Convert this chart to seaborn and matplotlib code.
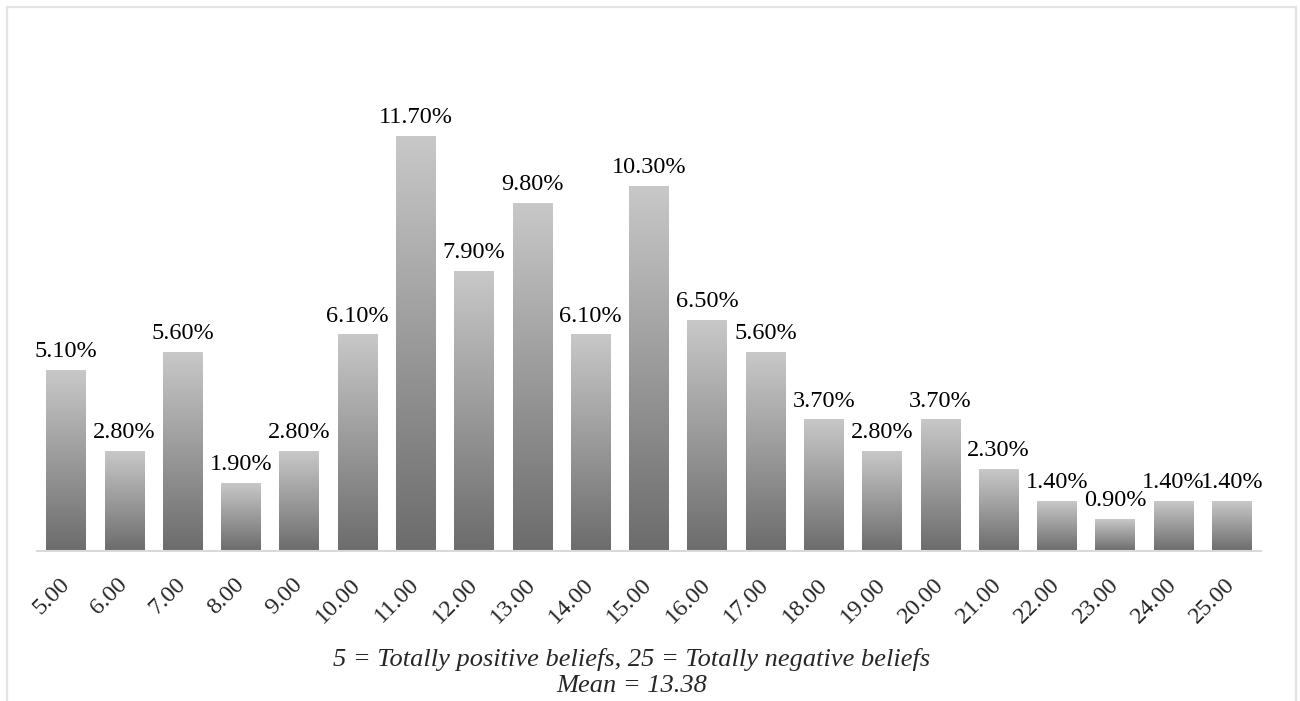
import numpy as np
import pandas as pd
import matplotlib
matplotlib.use("Agg")
import matplotlib.pyplot as plt
from matplotlib.colors import LinearSegmentedColormap
from matplotlib.patches import Rectangle
import seaborn as sns

# Score distribution (percent of respondents per total score)
scores = ["5.00", "6.00", "7.00", "8.00", "9.00", "10.00", "11.00", "12.00",
          "13.00", "14.00", "15.00", "16.00", "17.00", "18.00", "19.00",
          "20.00", "21.00", "22.00", "23.00", "24.00", "25.00"]
percents = [5.1, 2.8, 5.6, 1.9, 2.8, 6.1, 11.7, 7.9, 9.8, 6.1, 10.3, 6.5,
            5.6, 3.7, 2.8, 3.7, 2.3, 1.4, 0.9, 1.4, 1.4]
note_line1 = "5 = Totally positive beliefs, 25 = Totally negative beliefs"
note_line2 = "Mean = 13.38"

sns.set_theme(style="white")
plt.rcParams["font.family"] = ["Liberation Serif", "DejaVu Serif"]

W, H = 1300, 701
fig = plt.figure(figsize=(W / 100, H / 100), dpi=100)
fig.patch.set_facecolor("white")

# axes placed in pixel terms: baseline at y=551, x from 37 to 1261
ax_left, ax_right, ax_base, ax_top = 37, 1261, 551, 55
ax = fig.add_axes([ax_left / W, 1 - ax_base / H,
                   (ax_right - ax_left) / W, (ax_base - ax_top) / H])

df = pd.DataFrame({"score": scores, "pct": percents})
sns.barplot(data=df, x="score", y="pct", ax=ax, width=0.68,
            color="#a0a0a0", saturation=1, edgecolor="none")

# vertical gradient fill for each bar: light at the top, dark at the base
cmap = LinearSegmentedColormap.from_list("bar_grad", ["#6c6c6c", "#c8c8c8"])
grad = np.linspace(0, 1, 256).reshape(-1, 1)
for patch in ax.patches:
    x0 = patch.get_x()
    w = patch.get_width()
    h = patch.get_height()
    patch.set_facecolor("none")
    ax.imshow(grad, extent=[x0, x0 + w, 0, h], origin="lower",
              aspect="auto", cmap=cmap, zorder=patch.get_zorder())

# value labels above bars
for patch, v in zip(ax.patches, percents):
    ax.annotate(f"{v:.2f}%", (patch.get_x() + patch.get_width() / 2, patch.get_height()),
                xytext=(0, 6), textcoords="offset points",
                ha="center", va="bottom", fontsize=17.5, color="black")

ax.set_xlim(-0.5, len(scores) - 0.5)
ax.set_ylim(0, 14)
ax.set_xlabel("")
ax.set_ylabel("")
ax.set_yticks([])
ax.set_xticks(range(len(scores)))
ax.set_xticklabels(scores, rotation=45, ha="right", va="center",
                   rotation_mode="anchor", fontsize=17.5)
ax.tick_params(axis="x", length=0, pad=22)
for side in ["top", "left", "right"]:
    ax.spines[side].set_visible(False)
ax.spines["bottom"].set_color("#d9d9d9")
ax.spines["bottom"].set_linewidth(1.5)
ax.set_facecolor("none")

# chart note under the axis
fig.text(632 / W, 1 - 666 / H, note_line1, ha="center", va="baseline",
         fontsize=19, style="italic")
fig.text(632 / W, 1 - 692 / H, note_line2, ha="center", va="baseline",
         fontsize=19, style="italic")

# light outer frame around the chart area
fig.patches.append(Rectangle((7 / W, -0.05), (1296 - 7) / W, 1.05 - 7 / H,
                             transform=fig.transFigure, fill=False,
                             edgecolor="#e3e3e3", linewidth=1.6))

fig.savefig("out.png", dpi=100, facecolor="white")
